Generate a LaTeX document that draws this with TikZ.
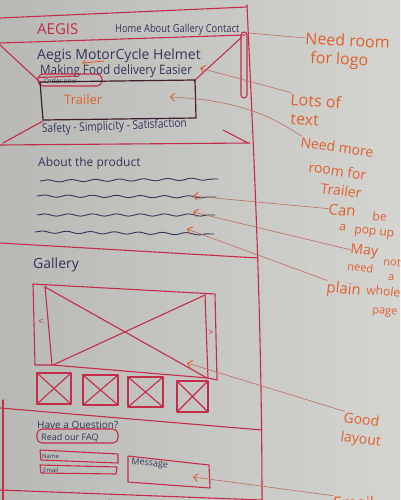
\documentclass[tikz,border=0pt]{standalone}
\usepackage{fontspec}
\setmainfont{Open Sans}
\usetikzlibrary{decorations.pathmorphing,arrows.meta}
\definecolor{paperL}{RGB}{184,185,180}
\definecolor{paperR}{RGB}{212,213,208}
\definecolor{ink}{RGB}{196,44,74}
\definecolor{pen}{RGB}{52,52,92}
\definecolor{note}{RGB}{226,96,48}
\definecolor{lead}{RGB}{192,108,96}
\definecolor{dark}{RGB}{62,30,46}
\newcommand{\fs}[1]{\fontsize{#1}{#1}\selectfont}
\begin{document}
\begin{tikzpicture}[x=1pt,y=-1pt,
  frame/.style={draw=ink,line width=1.1pt,line cap=round,line join=round},
  boxline/.style={draw=dark,line width=1.2pt,line join=round},
  penline/.style={draw=pen,line width=0.9pt,line cap=round,decorate,
    decoration={snake,amplitude=1.1pt,segment length=24pt}},
  hand/.style={text=pen,inner sep=0pt,anchor=base west},
  notetext/.style={text=note,inner sep=0pt,anchor=base west},
  leader/.style={draw=lead,line width=0.6pt},
  pointer/.style={leader,{Straight Barb[color=note,length=4pt,width=8pt,line width=1pt]}-},
  thumb/.style={frame}]
\useasboundingbox (0,0) rectangle (400,500);
\begin{scope}
\clip (0,0) rectangle (400,500);
% paper
\shade[left color=paperL,right color=paperR] (0,0) rectangle (400,500);

% page frame
\draw[frame] (0,18) -- (247,7);
\draw[frame] (247,5) .. controls (252,120) and (262,300) .. (262,505);
\draw[frame] (3,400) -- (3,505);
\draw[frame,rounded corners=3pt] (241,32) rectangle (247,98);

% navigation bar
\draw[frame] (0,43) -- (245,35);
\node[hand,text=ink,font=\fs{15}] (logo) at (37,35) {AEGIS};
\node[hand,font=\fs{11},xscale=0.85] (nav) at (115,33) {Home About Gallery Contact};
\coordinate (navEnd) at (249,33);

% hero
\draw[frame] (0,45) -- (41,83);
\draw[frame] (242,37) -- (194,81);
\draw[frame] (43,121) -- (3,143);
\draw[frame] (223,130) -- (248,143);
\draw[frame] (0,145) -- (250,143);
\node[hand,font=\fs{14}] (title) at (37,60) {Aegis MotorCycle Helmet};
\node[hand,font=\fs{13},xscale=0.9] (tagline) at (40,75) {Making Food delivery Easier};
\draw[frame] (38,77.5) -- (76,76);
\node[hand,font=\fs{6.5}] (order) at (44,84) {Order now};
\draw[frame,rounded corners=5pt] (38,74) rectangle (102,86);
\draw[boxline] (40,82) -- (195,80) -- (196,118) -- (43,120) -- cycle;
\node[hand,text=note,font=\fs{13}] (trailer) at (64,105) {Trailer};
\node[hand,font=\fs{12},xscale=0.84,rotate=2] (motto) at (42,133) {Safety - Simplicity - Satisfaction};
\draw[note,line width=0.9pt,-{Straight Barb[length=3pt,width=6pt]}] (104,61) -- (82,63);

% about the product
\node[hand,font=\fs{12}] (about) at (38,166) {About the product};
\draw[penline] (40,181) -- (218,179);
\draw[penline] (37,196) -- (216,197);
\draw[penline] (37,215) -- (215,215);
\draw[penline] (35,232) -- (214,234);
\draw[frame] (0,243) -- (258,258);

% gallery
\node[hand,font=\fs{14}] (gallery) at (33,268) {Gallery};
\draw[frame] (33,284) -- (215,294) -- (217,380) -- (208,378) -- (52,365) -- (35,365) -- cycle;
\draw[frame] (45,286) -- (52,365);
\draw[frame] (205,295) -- (208,378);
\draw[frame] (45,287) -- (207,378);
\draw[frame] (205,295) -- (53,365);
\node[text=ink,inner sep=0pt,font=\fs{9}] (prev) at (41,322) {<};
\node[text=ink,inner sep=0pt,font=\fs{9}] (next) at (211,333) {>};
\foreach \ax/\ay/\bx/\by in {37/373/71/404, 83/375/118/405, 128/377/163/407, 177/381/208/412}{
  \draw[thumb] (\ax,\ay) rectangle (\bx,\by);
  \draw[thumb] (\ax,\ay) -- (\bx,\by) (\ax,\by) -- (\bx,\ay);
}
\draw[frame] (0,408) -- (262,430);

% contact
\node[hand,font=\fs{10}] (question) at (37,428) {Have a Question?};
\node[hand,font=\fs{9}] (faq) at (41,440) {Read our FAQ};
\draw[frame,rounded corners=5pt] (37,429) rectangle (118,443);
\draw[frame] (40,450) -- (118,454) -- (118,463) -- (41,460) -- cycle;
\node[hand,font=\fs{6}] (name) at (42,458) {Name};
\draw[frame] (40,465) -- (117,467) -- (116,474) -- (41,473) -- cycle;
\node[hand,font=\fs{6}] (email) at (43,472) {Email};
\draw[frame] (128,456) -- (209,465) -- (210,488) -- (128,482) -- cycle;
\node[hand,font=\fs{9},rotate=-6] (message) at (131,464) {Message};
\draw[frame] (0,490) -- (262,500);
\node[hand,font=\fs{11}] (follow) at (95,508) {Follow us};

% notes beside the page
\node[notetext,font=\fs{16},rotate=-3] (noteA1) at (305,44) {Need room};
\node[notetext,font=\fs{16},rotate=-3] (noteA2) at (310,63) {for logo};
\node[notetext,font=\fs{16},rotate=-4] (noteB1) at (290,105) {Lots of};
\node[notetext,font=\fs{16},rotate=-4] (noteB2) at (290,124) {text};
\node[notetext,font=\fs{14},rotate=-8] (noteC1) at (300,147) {Need more};
\node[notetext,font=\fs{14},rotate=-8] (noteC2) at (308,172) {room for};
\node[notetext,font=\fs{14},rotate=-8] (noteC3) at (320,193) {Trailer};
\node[notetext,font=\fs{15},rotate=-6] (noteD1) at (328,214) {Can};
\node[notetext,font=\fs{12},rotate=-6] (noteD2) at (372,220) {be};
\node[notetext,font=\fs{12},rotate=-6] (noteD3) at (339,230) {a};
\node[notetext,font=\fs{12},rotate=-6] (noteD4) at (354,233) {pop up};
\node[notetext,font=\fs{14},rotate=-6] (noteE1) at (350,253) {May};
\node[notetext,font=\fs{11},rotate=-6] (noteE2) at (347,270) {need};
\node[notetext,font=\fs{11},rotate=-6] (noteE3) at (383,265) {not};
\node[notetext,font=\fs{11}] (noteE4) at (388,280) {a};
\node[notetext,font=\fs{12},rotate=-6] (noteE5) at (366,294) {whole};
\node[notetext,font=\fs{11},rotate=-6] (noteE6) at (372,313) {page};
\node[notetext,font=\fs{15},rotate=-6] (noteF) at (326,292) {plain};
\node[notetext,font=\fs{14},rotate=-8] (noteG1) at (343,422) {Good};
\node[notetext,font=\fs{14},rotate=-8] (noteG2) at (340,441) {layout};
\node[notetext,font=\fs{16}] (noteH) at (333,508) {Email};

% note pointers
\coordinate (pEasier) at (200,68);
\coordinate (pTrailer) at (170,97);
\coordinate (pText1) at (193,196);
\coordinate (pText2) at (193,212);
\coordinate (pText3) at (187,229);
\coordinate (pSlide) at (187,363);
\coordinate (pMessage) at (193,477);
\draw[leader] (navEnd) -- (noteA1.west);
\draw[pointer] (pEasier) -- (noteB1.north west);
\draw[pointer] (pTrailer) .. controls (240,100) and (275,118) .. (noteC1.north west);
\draw[pointer] (pText1) -- (noteD1.west);
\draw[pointer] (pText2) -- (noteE1.west);
\draw[pointer] (pText3) -- (noteF.north west);
\draw[pointer] (pSlide) -- (noteG1.north west);
\draw[pointer] (pMessage) -- (noteH.north west);
\end{scope}
\end{tikzpicture}
\end{document}
